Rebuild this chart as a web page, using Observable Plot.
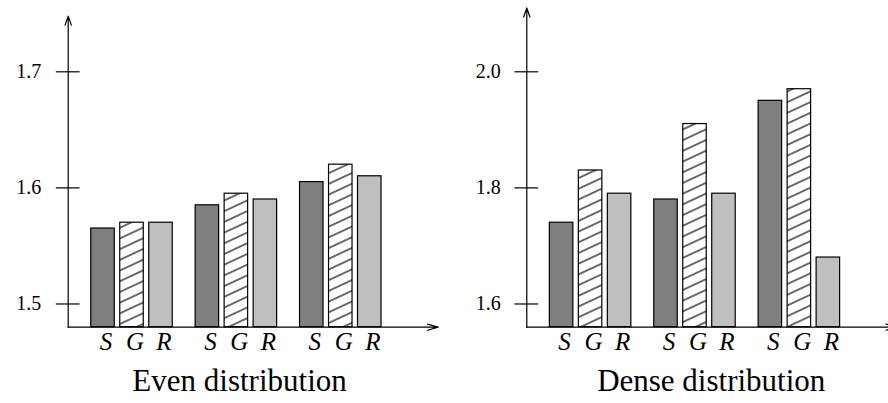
<!DOCTYPE html>
<html><head><meta charset="utf-8">
<script src="https://cdn.jsdelivr.net/npm/d3@7"></script>
<script src="https://cdn.jsdelivr.net/npm/@observablehq/plot@0.6"></script>
<style>
html,body{margin:0;padding:0;background:#fff;}
#wrap{width:888px;height:403px;display:flex;overflow:hidden;}
#wrap > *{flex:none;}
#wrap svg text{font-family:"Liberation Serif","Times New Roman",Times,serif !important;}
</style></head><body><div id="wrap"></div>
<script>
// ---- data ----
const methods = ["S", "G", "R"];
const groups = ["g1", "g2", "g3"];
const evenValues = [1.565, 1.57, 1.57, 1.585, 1.595, 1.59, 1.605, 1.62, 1.61];
const denseValues = [1.74, 1.83, 1.79, 1.78, 1.91, 1.79, 1.95, 1.97, 1.68];
const evenTicks = [1.5, 1.6, 1.7];
const denseTicks = [1.6, 1.8, 2.0];
const evenAxis = [1.48, 1.748];   // baseline, arrow tip
const denseAxis = [1.56, 2.11];
const titles = ["Even distribution", "Dense distribution"];
const methodFills = ["#7f7f7f", "HATCH", "#bfbfbf"];

const FONT = "Liberation Serif";

function panel({values, ticks, axis, yTop, axisX, title, titleX, labelDx, hatchId, marginRight}) {
  const rows = values.map((v, i) => ({
    group: groups[Math.floor(i / 3)],
    method: methods[i % 3],
    value: v,
    pos: 1.2 + Math.floor(i / 3) * 3.6 + (i % 3)
  }));
  const base = axis[0];
  const fills = methodFills.map(c => c === "HATCH" ? `url(#${hatchId})` : c);
  const svg = Plot.plot({
    width: 444,
    height: 403,
    marginLeft: axisX,
    marginRight: marginRight,
    marginTop: 8,
    marginBottom: 76.3,
    style: {fontFamily: FONT, background: "white", color: "black"},
    x: {type: "linear", domain: [0, 12.76], range: [axisX, axisX + 370], axis: null},
    y: {type: "linear", domain: [base, yTop], range: [326.7, 71.3], axis: null},
    color: {type: "ordinal", domain: methods, range: fills},
    marks: [
      Plot.rect(rows, {
        x1: d => d.pos - 0.5, x2: d => d.pos + 0.5,
        y1: base, y2: "value",
        fill: "method", stroke: "black", strokeWidth: 1.2,
        insetLeft: 2.75, insetRight: 2.75
      }),
      Plot.ruleY(ticks, {y: d => d, x1: -0.41, x2: 0.41, stroke: "black", strokeWidth: 1.2}),
      Plot.arrow([{x1: 0, y1: base, x2: 0, y2: axis[1]}], {
        x1: "x1", y1: "y1", x2: "x2", y2: "y2",
        stroke: "black", strokeWidth: 1.2, headLength: 12, headAngle: 38
      }),
      Plot.arrow([{x1: 0, y1: base, x2: 12.76, y2: base}], {
        x1: "x1", y1: "y1", x2: "x2", y2: "y2",
        stroke: "black", strokeWidth: 1.2, headLength: 14, headAngle: 32
      }),
      Plot.text(ticks, {
        x: 0, y: d => d, text: d => d.toFixed(1), fontFamily: FONT,
        textAnchor: "end", dx: labelDx, fontSize: 20, fill: "black"
      }),
      Plot.text(rows, {
        x: "pos", y: base, text: "method", fontFamily: FONT,
        fontSize: 25, fontStyle: "italic", lineAnchor: "top", dy: 5, dx: 3, fill: "black"
      }),
      Plot.text([title], {
        x: titleX, frameAnchor: "bottom", text: d => d, fontFamily: FONT,
        fontSize: 31, dy: 63.4, fill: "black"
      })
    ]
  });
  // hatch pattern definition
  const ns = "http://www.w3.org/2000/svg";
  const defs = document.createElementNS(ns, "defs");
  defs.innerHTML = `<pattern id="${hatchId}" patternUnits="userSpaceOnUse" width="10" height="9.7" patternTransform="rotate(-25)">
      <rect x="0" y="0" width="10" height="9.7" fill="white"/>
      <line x1="-1" y1="4.85" x2="11" y2="4.85" stroke="black" stroke-width="1.15"/>
    </pattern>`;
  svg.insertBefore(defs, svg.firstChild);
  return svg;
}

const wrap = document.getElementById("wrap");
wrap.appendChild(panel({
  values: evenValues, ticks: evenTicks, axis: evenAxis, yTop: 1.7,
  axisX: 67.7, title: titles[0], titleX: 5.91, labelDx: -27, hatchId: "hatch-even", marginRight: 7
}));
wrap.appendChild(panel({
  values: denseValues, ticks: denseTicks, axis: denseAxis, yTop: 2.0,
  axisX: 82.3, title: titles[1], titleX: 6.36, labelDx: -26, hatchId: "hatch-dense", marginRight: 0
}));
</script>
</body></html>
